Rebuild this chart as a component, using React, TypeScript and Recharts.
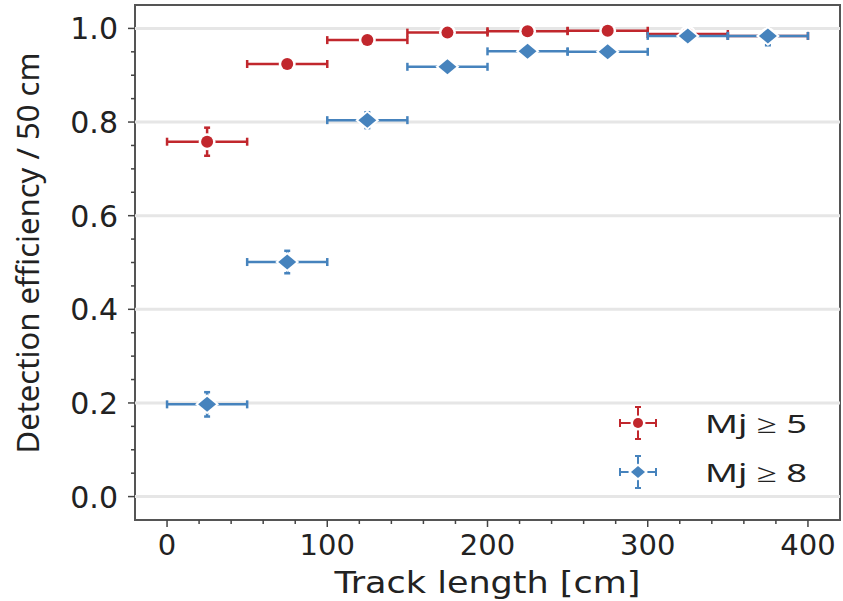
import React from 'react'
import {
  ScatterChart,
  Scatter,
  XAxis,
  YAxis,
  ErrorBar,
  ReferenceLine,
  ReferenceArea,
  Legend,
} from 'recharts'

// bins of 50 cm, plotted at the bin centre
const binCenters = [25, 75, 125, 175, 225, 275, 325, 375]
const binHalfWidth = [25, 25, 25, 25, 25, 25, 25, 25]

const effMj5 = [0.758, 0.924, 0.975, 0.991, 0.994, 0.995, 0.988, 0.984]
const errMj5 = [0.03, 0.01, 0.006, 0.004, 0.003, 0.003, 0.003, 0.003]

const effMj8 = [0.197, 0.501, 0.804, 0.918, 0.951, 0.95, 0.984, 0.984]
const errMj8: (number | number[])[] = [0.026, 0.024, 0.017, 0.006, 0.004, 0.004, 0.004, [0.02, 0.004]]

const xTicks = [0, 20, 40, 60, 80, 100, 120, 140, 160, 180, 200, 220, 240, 260, 280, 300, 320, 340, 360, 380, 400]
const xMajor = [0, 100, 200, 300, 400]
const yTicks = [0, 0.05, 0.1, 0.15, 0.2, 0.25, 0.3, 0.35, 0.4, 0.45, 0.5, 0.55, 0.6, 0.65, 0.7, 0.75, 0.8, 0.85, 0.9, 0.95, 1.0]
const yMajor = [0, 0.2, 0.4, 0.6, 0.8, 1.0]

const RED = '#c1272d'
const BLUE = '#4683bd'
const AXIS = '#444'

const mj5Data = binCenters.map((x, i) => ({ x, y: effMj5[i], xErr: binHalfWidth[i], yErr: errMj5[i] }))
const mj8Data = binCenters.map((x, i) => ({ x, y: effMj8[i], xErr: binHalfWidth[i], yErr: errMj8[i] }))

const CircleMark = ({ cx, cy, color, r = 6 }: any) => (
  <g>
    <circle cx={cx} cy={cy} r={r + 2.5} fill="#fff" />
    <circle cx={cx} cy={cy} r={r} fill={color} />
  </g>
)

const DiamondMark = ({ cx, cy, color, w = 9, h = 7.5 }: any) => (
  <g>
    <polygon points={`${cx},${cy - h - 2.5} ${cx + w + 3},${cy} ${cx},${cy + h + 2.5} ${cx - w - 3},${cy}`} fill="#fff" />
    <polygon points={`${cx},${cy - h} ${cx + w},${cy} ${cx},${cy + h} ${cx - w},${cy}`} fill={color} />
  </g>
)

const isMajor = (v: number, list: number[]) => list.some((m) => Math.abs(m - v) < 1e-6)

const YTick = ({ x, y, payload }: any) => {
  const major = isMajor(payload.value, yMajor)
  return (
    <g>
      <line x1={x} x2={x - (major ? 7 : 4)} y1={y} y2={y} stroke={AXIS} strokeWidth={1.5} />
      {major && (
        <text x={x - 17} y={y + 11} textAnchor="end" fontFamily="DejaVu Sans" fontSize={30} fill="#222">
          {payload.value.toFixed(1)}
        </text>
      )}
    </g>
  )
}

const XTick = ({ x, y, payload }: any) => {
  const major = isMajor(payload.value, xMajor)
  return (
    <g>
      <line x1={x} x2={x} y1={y} y2={y + (major ? 7 : 4)} stroke={AXIS} strokeWidth={1.5} />
      {major && (
        <text x={x} y={y + 35} textAnchor="middle" fontFamily="DejaVu Sans" fontSize={29} fill="#222">
          {payload.value}
        </text>
      )}
    </g>
  )
}

const seriesStyle: Record<string, { color: string; shape: 'circle' | 'diamond' }> = {
  'Mj ≥ 5': { color: RED, shape: 'circle' },
  'Mj ≥ 8': { color: BLUE, shape: 'diamond' },
}

const LegendContent = ({ payload }: any) => (
  <svg width={230} height={100}>
    {(payload || []).map((entry: any, i: number) => {
      const st = seriesStyle[entry.value] || { color: entry.color, shape: 'circle' }
      const cx = 38
      const cy = 28 + i * 49
      return (
        <g key={entry.value}>
          <g stroke={st.color} strokeWidth={2}>
            <line x1={cx - 18} x2={cx + 18} y1={cy} y2={cy} />
            <line x1={cx - 18} x2={cx - 18} y1={cy - 4} y2={cy + 4} />
            <line x1={cx + 18} x2={cx + 18} y1={cy - 4} y2={cy + 4} />
            <line x1={cx} x2={cx} y1={cy - 16} y2={cy + 16} />
            <line x1={cx - 3} x2={cx + 3} y1={cy - 16} y2={cy - 16} />
            <line x1={cx - 3} x2={cx + 3} y1={cy + 16} y2={cy + 16} />
          </g>
          {st.shape === 'circle' ? (
            <CircleMark cx={cx} cy={cy} color={st.color} r={5} />
          ) : (
            <DiamondMark cx={cx} cy={cy} color={st.color} w={7} h={6} />
          )}
          <text x={105} y={cy + 10} fontFamily="Noto Sans" fontSize={26} fill="#222" textLength={102} lengthAdjust="spacingAndGlyphs">
            {entry.value}
          </text>
        </g>
      )
    })}
  </svg>
)

export default function App() {
  return (
    <div style={{ position: 'absolute', left: 0, top: 0, width: 843, height: 601, background: '#fff' }}>
      <ScatterChart width={843} height={601} margin={{ top: 5, right: 3, bottom: 0, left: 0 }}>
        <XAxis
          type="number"
          dataKey="x"
          domain={[-20, 420]}
          ticks={xTicks}
          interval={0}
          allowDataOverflow
          height={81}
          tickSize={0}
          tickMargin={0}
          tickLine={false}
          axisLine={false}
          tick={<XTick />}
          label={{
            content: ({ viewBox }: any) => (
              <text
                x={viewBox.x + viewBox.width / 2}
                y={593}
                textAnchor="middle"
                fontFamily="DejaVu Sans"
                fontSize={31}
                fill="#222"
                textLength={306}
                lengthAdjust="spacingAndGlyphs"
              >
                Track length [cm]
              </text>
            ),
          }}
        />
        <YAxis
          type="number"
          dataKey="y"
          domain={[-0.05, 1.05]}
          ticks={yTicks}
          interval={0}
          allowDataOverflow
          width={135}
          tickSize={0}
          tickMargin={0}
          tickLine={false}
          axisLine={false}
          tick={<YTick />}
          label={{
            content: () => (
              <text x={39} y={253} transform="rotate(-90, 39, 253)" textAnchor="middle" fontFamily="Noto Sans" fontSize={31} fill="#222">
                Detection efficiency / 50 cm
              </text>
            ),
          }}
        />
        {yMajor.map((v) => (
          <ReferenceLine key={v} y={v} stroke="#e6e6e6" strokeWidth={3} />
        ))}
        <ReferenceArea x1={-20} x2={420} y1={-0.05} y2={1.05} fill="none" stroke="#555" strokeWidth={2} fillOpacity={0} ifOverflow="visible" />
        <Scatter name="Mj ≥ 5" data={mj5Data} fill={RED} isAnimationActive={false} shape={(p: any) => <CircleMark cx={p.cx} cy={p.cy} color={RED} />}>
          <ErrorBar dataKey="xErr" direction="x" width={4} stroke={RED} strokeWidth={2.5} isAnimationActive={false} />
          <ErrorBar dataKey="yErr" direction="y" width={3} stroke={RED} strokeWidth={2.5} isAnimationActive={false} />
        </Scatter>
        <Scatter name="Mj ≥ 8" data={mj8Data} fill={BLUE} isAnimationActive={false} shape={(p: any) => <DiamondMark cx={p.cx} cy={p.cy} color={BLUE} />}>
          <ErrorBar dataKey="xErr" direction="x" width={4} stroke={BLUE} strokeWidth={2.5} isAnimationActive={false} />
          <ErrorBar dataKey="yErr" direction="y" width={3} stroke={BLUE} strokeWidth={2.5} isAnimationActive={false} />
        </Scatter>
        <Legend
          layout="vertical"
          align="center"
          verticalAlign="middle"
          content={<LegendContent />}
          wrapperStyle={{ position: 'absolute', left: 600, top: 395, width: 230, height: 100 }}
        />
      </ScatterChart>
    </div>
  )
}
